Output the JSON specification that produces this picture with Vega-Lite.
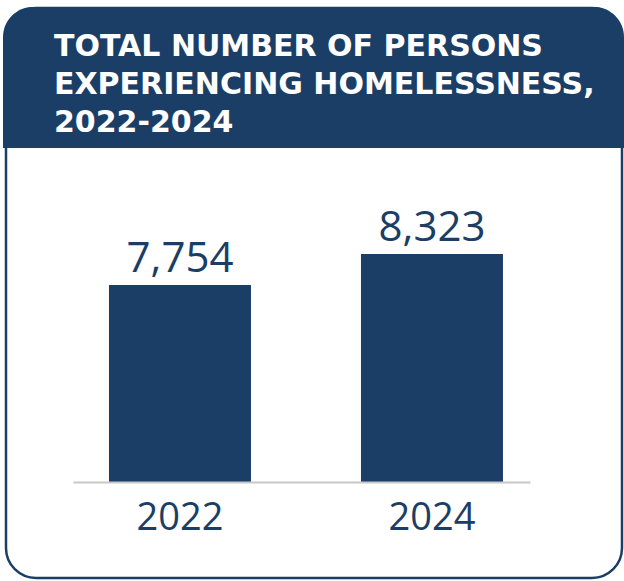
{
  "$schema": "https://vega.github.io/schema/vega-lite/v6.json",
  "width": 457,
  "height": 334,
  "autosize": {"type": "none"},
  "padding": {"left": 73, "top": 148, "right": 94, "bottom": 99},
  "background": "white",
  "config": {"view": {"stroke": null}},
  "title": {
    "text": ["TOTAL NUMBER OF PERSONS", "EXPERIENCING HOMELESSNESS,", "2022-2024"],
    "anchor": "start",
    "frame": "group",
    "orient": "top",
    "offset": -131,
    "dx": -19,
    "font": "DejaVu Sans",
    "fontWeight": "bold",
    "fontSize": 30,
    "lineHeight": 38,
    "color": "white",
    "zindex": 2
  },
  "data": {"values": [
    {"year": "2022", "count": 7754},
    {"year": "2024", "count": 8323}
  ]},
  "layer": [
    {
      "data": {"values": [{"card": 1}]},
      "mark": {"type": "rect", "fill": "white", "stroke": "#1b3e66", "strokeWidth": 2.5, "cornerRadius": 30},
      "encoding": {
        "x": {"value": -67},
        "x2": {"value": 549},
        "y": {"value": -140},
        "y2": {"value": 430}
      }
    },
    {
      "data": {"values": [{"header": 1}]},
      "mark": {"type": "rect", "fill": "#1b3e66", "cornerRadiusTopLeft": 30, "cornerRadiusTopRight": 30},
      "encoding": {
        "x": {"value": -70},
        "x2": {"value": 551},
        "y": {"value": -141},
        "y2": {"value": 0}
      }
    },
    {
      "mark": {"type": "bar", "color": "#1b3e66"},
      "encoding": {
        "x": {
          "field": "year", "type": "nominal",
          "scale": {"paddingInner": 0.4365, "paddingOuter": 0.125, "align": 0.571},
          "axis": {
            "title": null, "labelAngle": 0, "ticks": false,
            "domainColor": "#c8c8c8", "domainWidth": 2,
            "labelFont": "Open Sans", "labelFontSize": 38, "labelColor": "#1b3e66",
            "labelPadding": 17, "labelBaseline": "top", "zindex": 1
          }
        },
        "y": {
          "field": "count", "type": "quantitative",
          "scale": {"domain": [4138, 10269], "zero": false, "nice": false, "clamp": true},
          "axis": null
        }
      }
    },
    {
      "mark": {"type": "text", "baseline": "alphabetic", "dy": -13, "font": "Open Sans", "fontSize": 42, "color": "#1b3e66"},
      "encoding": {
        "x": {"field": "year", "type": "nominal"},
        "y": {"field": "count", "type": "quantitative"},
        "text": {"field": "count", "type": "quantitative", "format": ","}
      }
    }
  ]
}
